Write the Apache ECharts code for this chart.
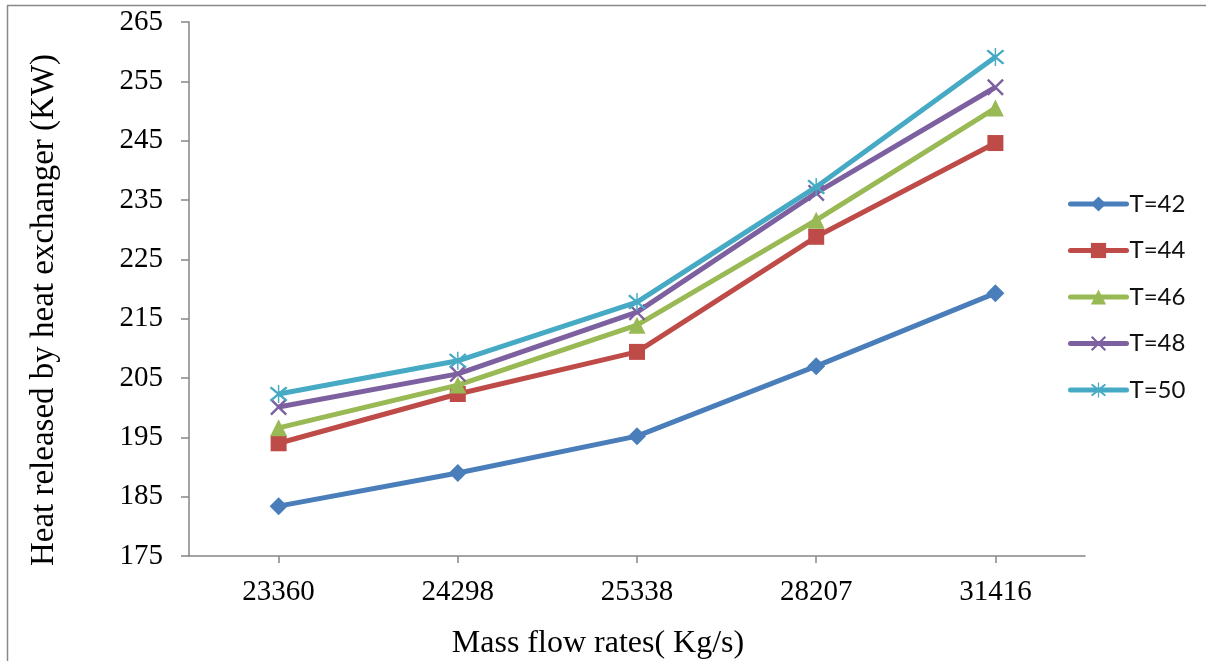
<!DOCTYPE html>
<html>
<head>
<meta charset="utf-8">
<script src="https://cdn.jsdelivr.net/npm/echarts@6/dist/echarts.min.js"></script>
<style>
html,body{margin:0;padding:0;background:#fff;}
#chart{width:1206px;height:661px;}
</style>
</head>
<body>
<div id="chart"></div>
<script>
const categories = ['23360', '24298', '25338', '28207', '31416'];
const seriesNames = ['T=42', 'T=44', 'T=46', 'T=48', 'T=50'];
const t42 = [183.4, 189.0, 195.2, 207.0, 219.3];
const t44 = [194.0, 202.3, 209.4, 228.8, 244.6];
const t46 = [196.6, 203.8, 213.9, 231.6, 250.5];
const t48 = [200.1, 205.7, 216.1, 236.2, 254.0];
const t50 = [202.3, 207.9, 217.8, 237.2, 259.1];
const yTicks = [175, 185, 195, 205, 215, 225, 235, 245, 255, 265];

const colors = ['#4a7ebb', '#be4b48', '#98b954', '#7d60a0', '#46aac5'];
const xPath = 'path://M2,0 L10,8 L18,0 L20,2 L12,10 L20,18 L18,20 L10,12 L2,20 L0,18 L8,10 L0,2 Z';
const starPath = 'path://M2,0 L10,8 L18,0 L20,2 L12,10 L20,18 L18,20 L10,12 L2,20 L0,18 L8,10 L0,2 Z M9.2,-2 L10.8,-2 L10.8,22 L9.2,22 Z';
const symbols = ['diamond', 'rect', 'triangle', xPath, starPath];
const sizes = [18, 16, 17, 17, 18];
const dataArr = [t42, t44, t46, t48, t50];

const chart = echarts.init(document.getElementById('chart'), null, {renderer: 'canvas'});
const serif = '"Liberation Serif", "Times New Roman", serif';
const option = {
  animation: false,
  backgroundColor: '#fff',
  color: colors,
  graphic: [
    {type: 'line', shape: {x1: 7.5, y1: 5.5, x2: 7.5, y2: 661}, style: {stroke: '#888', lineWidth: 1.5}},
    {type: 'line', shape: {x1: 7, y1: 5.5, x2: 1206, y2: 5.5}, style: {stroke: '#888', lineWidth: 1.5}}
  ],
  grid: {left: 189, right: 121, top: 22, bottom: 105, containLabel: false, outerBoundsMode: 'none'},
  legend: {
    orient: 'vertical',
    left: 1063,
    top: 187,
    itemWidth: 56,
    itemHeight: 19,
    itemGap: 22.5,
    data: seriesNames,
    lineStyle: {width: 5, cap: 'round'},
    textStyle: {fontFamily: 'Lato, "Open Sans", sans-serif', fontSize: 24, color: '#111', padding: [0, 0, 0, -2]}
  },
  xAxis: {
    type: 'category',
    data: categories,
    boundaryGap: true,
    name: 'Mass flow rates( Kg/s)',
    nameLocation: 'middle',
    nameGap: 72,
    nameTextStyle: {fontFamily: serif, fontSize: 32, color: '#000', padding: [0, 78, 0, 0]},
    axisLine: {lineStyle: {color: '#868686', width: 1.5}},
    axisTick: {show: true, alignWithLabel: true, length: 7, lineStyle: {color: '#868686', width: 1.5}},
    axisLabel: {fontFamily: serif, fontSize: 29, color: '#000', margin: 22}
  },
  yAxis: {
    type: 'value',
    min: 175,
    max: 265,
    interval: 10,
    name: 'Heat released by heat exchanger (KW)',
    nameLocation: 'middle',
    nameGap: 128,
    nameTextStyle: {fontFamily: serif, fontSize: 33, color: '#000', padding: [0, 42, 0, 0]},
    splitLine: {show: false},
    axisLine: {show: true, lineStyle: {color: '#868686', width: 1.5}},
    axisTick: {show: true, length: 8, lineStyle: {color: '#868686', width: 1.5}},
    axisLabel: {fontFamily: serif, fontSize: 29, color: '#000', margin: 26,
      formatter: function (v) { return yTicks.indexOf(v) >= 0 ? String(v) : ''; }}
  },
  series: seriesNames.map(function (n, i) {
    return {
      name: n,
      type: 'line',
      data: dataArr[i],
      symbol: symbols[i],
      symbolSize: sizes[i],
      showSymbol: true,
      lineStyle: {width: 5, color: colors[i]},
      itemStyle: {color: colors[i], borderWidth: 0},
      z: 2 + i
    };
  })
};
chart.setOption(option);
</script>
</body>
</html>
